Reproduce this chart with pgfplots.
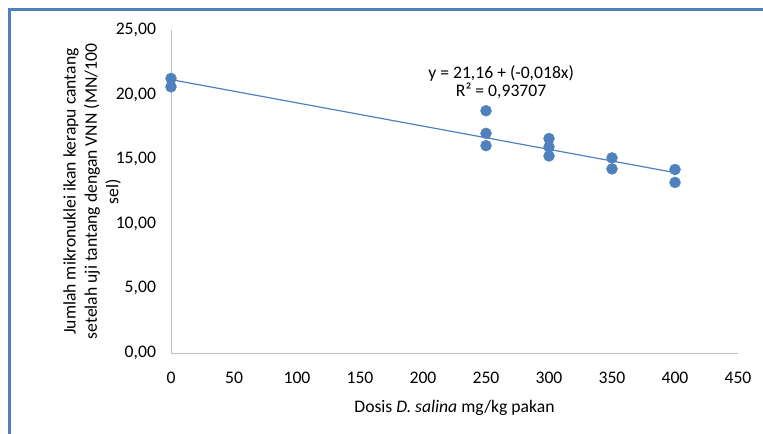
\documentclass[border=0pt]{standalone}
\usepackage{pgfplots}
\pgfplotsset{compat=1.18}
\usepackage{fontspec}
\setmainfont{Carlito}
\definecolor{ptblue}{HTML}{4F81BD}
\definecolor{framecol}{HTML}{4F81BD}
\definecolor{axgray}{HTML}{BFBFBF}
\begin{document}
\fontsize{17.7}{21.5}\selectfont
\begin{tikzpicture}[x=1bp,y=1bp]
\path[use as bounding box] (0,0) rectangle (763,434);
\draw[framecol, line width=3bp] (9,-5) -- (9,424) -- (770,424);
\begin{axis}[
  at={(171bp,81bp)}, anchor=south west,
  scale only axis, width=567bp, height=323bp,
  xmin=0, xmax=450, ymin=0, ymax=25,
  xtick={0,50,...,450}, ytick={0,5,...,25},
  axis x line*=bottom, axis y line*=left,
  axis line style={axgray, line width=0.8bp},
  x axis line style={-}, y axis line style={-},
  tick style={draw=none},
  ticklabel style={font=\fontsize{17.7}{21.5}\selectfont},
  /pgf/number format/assume math mode=true,
  yticklabel={\pgfmathprintnumber[fixed,fixed zerofill,precision=2,use comma]{\tick}},
  xticklabel={\pgfmathprintnumber[fixed,precision=0]{\tick}},
  xticklabel style={yshift=-13bp},
  yticklabel style={xshift=-9bp},
  xlabel={Dosis \textit{D. salina} mg/kg pakan},
  xlabel style={font=\fontsize{17.7}{21.5}\selectfont, yshift=-5bp},
  ylabel={Jumlah mikronuklei ikan kerapu cantang\\setelah uji tantang dengan VNN (MN/100\\sel)},
  ylabel style={font=\fontsize{17.7}{21.5}\selectfont, align=center, yshift=-17bp},
  clip=false,
]
\addplot[only marks, mark=*, mark size=5.5bp, color=ptblue, mark options={fill=ptblue, draw=ptblue}] coordinates {
 (0,21.25) (0,20.6)
 (250,18.75) (250,17.0) (250,16.05)
 (300,16.6) (300,15.95) (300,15.25)
 (350,15.1) (350,14.25)
 (400,14.2) (400,13.2)
};
\addplot[ptblue, line width=1.2bp] coordinates {(0,21.16) (400,13.96)};
\node[align=center, font=\fontsize{17.7}{17.5}\selectfont] at (axis cs:262,20.95) {y = 21,16 + (-0,018x)\\R² = 0,93707};
\end{axis}
\end{tikzpicture}
\end{document}
